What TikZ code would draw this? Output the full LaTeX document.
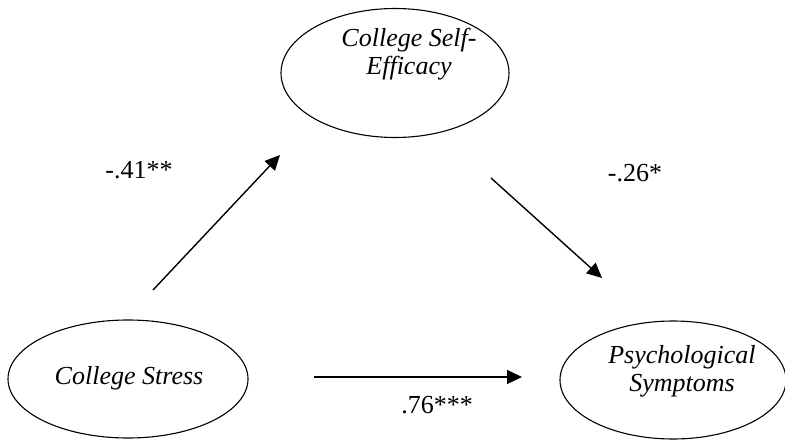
\documentclass[tikz,border=0pt]{standalone}
\usepackage{fontspec}
\setmainfont{Liberation Serif}
\usetikzlibrary{shapes.geometric,arrows.meta}
\begin{document}
\begin{tikzpicture}[x=1pt,y=-1pt,
  oval/.style={draw, ellipse, line width=1.1pt, inner sep=0pt},
  vartext/.style={font=\fontsize{26}{28}\selectfont\itshape, align=center, inner sep=0pt},
  coef/.style={font=\fontsize{26}{28}\selectfont, inner sep=0pt},
  link/.style={line width=1.4pt, -{Triangle[length=15pt,width=14pt]}}]
\useasboundingbox (0,0) rectangle (785,441);
% ellipses
\node[oval, minimum width=228pt, minimum height=129pt] (se) at (395,73) {};
\node[oval, minimum width=240pt, minimum height=118pt] (cs) at (128,379) {};
\node[oval, minimum width=226pt, minimum height=118pt] (ps) at (673,380) {};
% texts
\node[vartext] (set) at (409,54) {College Self-\\Efficacy};
\node[vartext] (cst) at (129,378) {College Stress};
\node[vartext] (pst) at (682,371) {Psychological\\Symptoms};
% connector ends
\coordinate (a1s) at (153,290);
\coordinate (a1e) at (280,155);
\coordinate (a2s) at (491,178);
\coordinate (a2e) at (602,278);
\coordinate (a3s) at (314,377);
\coordinate (a3e) at (522,377);
\draw[link] (a1s) -- (a1e);
\draw[link] (a2s) -- (a2e);
\draw[link] (a3s) -- (a3e);
% coefficients
\node[coef] (c1) at (139,170) {-.41**};
\node[coef] (c2) at (635,173) {-.26*};
\node[coef] (c3) at (437,405) {.76***};
\end{tikzpicture}
\end{document}
